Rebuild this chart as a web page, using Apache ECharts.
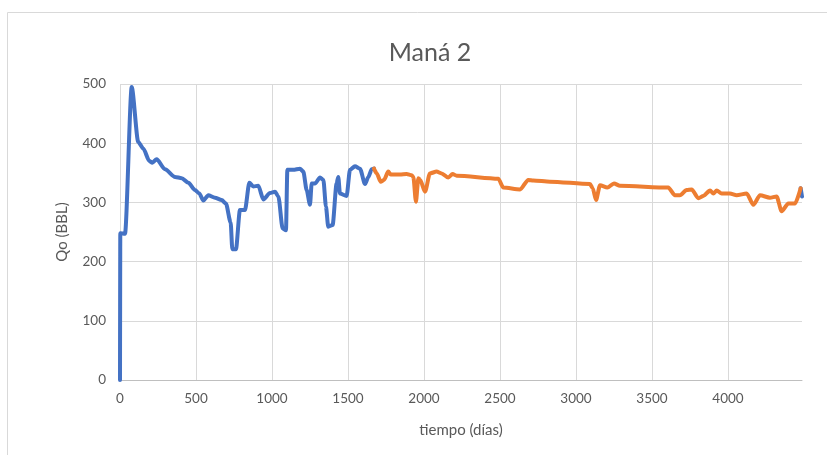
<!DOCTYPE html>
<html>
<head>
<meta charset="utf-8">
<script src="https://cdn.jsdelivr.net/npm/echarts@6/dist/echarts.min.js"></script>
<style>
    html, body { margin: 0; padding: 0; background: #fff; }
    #chart { width: 827px; height: 455px; }
</style>
</head>
<body>
<div id="chart"></div>
<script>
    // produccion historica (azul)
    var blueDays = [0, 2, 33, 77, 120, 153, 193, 213, 241, 296, 362, 406, 450, 493, 522, 548, 581, 625, 669, 697,
        728, 739, 763, 789, 822, 851, 877, 910, 943, 987, 1020, 1042, 1070, 1092, 1101, 1140, 1184, 1206, 1228, 1250,
        1261, 1283, 1316, 1338, 1355, 1370, 1399, 1425, 1436, 1447, 1491, 1513, 1546, 1579, 1612, 1634, 1656, 1671,
        null, 4478, 4487]
    var blueQo = [0, 248, 247, 495, 402, 391, 370, 367, 373, 356, 343, 341, 333, 321, 315, 303, 312, 308, 304, 298,
        266, 221, 221, 287, 287, 333, 327, 328, 305, 316, 318, 310, 256, 253, 355, 355, 357, 352, 321, 296,
        332, 332, 342, 338, 293, 259, 262, 332, 343, 315, 311, 355, 361, 357, 331, 343, 356, 357,
        null, 324, 310]
    // segunda serie (naranja)
    var orangeDays = [1671, 1689, 1715, 1737, 1765, 1781, 1842, 1886, 1919, 1930, 1947, 1963, 1975, 2007, 2039, 2083,
        2116, 2160, 2188, 2215, 2489, 2522, 2632, 2686, 2719, 2829, 3092, 3110, 3132, 3158, 3206, 3250, 3289, 3607,
        3651, 3684, 3728, 3761, 3805, 3838, 3882, 3904, 3926, 3958, 4013, 4057, 4123, 4167, 4211, 4276, 4320, 4353,
        4397, 4441, 4478]
    var orangeQo = [357, 349, 335, 338, 352, 347, 347, 348, 346, 343, 301, 341, 338, 318, 349, 352,
        349, 342, 348, 345, 340, 325, 322, 338, 337, 335, 331, 324, 304, 329, 325, 332, 328, 325,
        312, 312, 321, 322, 307, 311, 320, 315, 320, 315, 315, 312, 315, 296, 312, 308, 310, 285,
        298, 298, 324]

    function pairs(xs, ys) {
        var out = []
        for (var i = 0; i < xs.length; i++) {
            out.push(xs[i] === null ? '-' : [xs[i], ys[i]])
        }
        return out
    }

    var font = 'Lato, "Open Sans", sans-serif'
    var grey = '#595959'

    var option = {
        animation: false,
        textStyle: { fontFamily: font },
        graphic: [{
            type: 'rect',
            shape: { x: 7.5, y: 12.5, width: 840, height: 470 },
            style: { fill: 'none', stroke: '#d9d9d9', lineWidth: 1 },
            silent: true
        }],
        title: {
            text: 'Maná 2',
            left: 425,
            top: 35,
            textAlign: 'center',
            textStyle: { fontFamily: font, fontSize: 25, fontWeight: 'normal', color: grey }
        },
        grid: { left: 120, right: 25, top: 84, bottom: 75 },
        xAxis: {
            type: 'value',
            min: 0,
            max: 4487,
            interval: 500,
            name: 'tiempo (días)',
            nameLocation: 'middle',
            nameGap: 43,
            nameMoveOverlap: false,
            nameTextStyle: { fontSize: 15, color: grey },
            axisLine: { show: true, lineStyle: { color: '#bfbfbf', width: 1 } },
            axisTick: { show: false },
            axisLabel: {
                color: grey, fontSize: 13.5, margin: 12, showMaxLabel: false,
                formatter: function (v) { return String(v) }
            },
            splitLine: { show: true, showMaxLine: false, lineStyle: { color: '#d9d9d9', width: 1 } }
        },
        yAxis: {
            type: 'value',
            min: 0,
            max: 500,
            interval: 100,
            name: 'Qo (BBL)',
            nameLocation: 'middle',
            nameGap: 50,
            nameMoveOverlap: false,
            nameTextStyle: { fontSize: 15, color: grey },
            axisLine: { show: false },
            axisTick: { show: false },
            axisLabel: { color: grey, fontSize: 13.5, margin: 14 },
            splitLine: { show: true, lineStyle: { color: '#d9d9d9', width: 1 } }
        },
        series: [
            {
                type: 'line',
                data: pairs(blueDays, blueQo),
                showSymbol: false,
                connectNulls: false,
                smooth: 0.25,
                smoothMonotone: 'x',
                lineStyle: { color: '#4472C4', width: 4, cap: 'round', join: 'round' },
                itemStyle: { color: '#4472C4' },
                z: 2
            },
            {
                type: 'line',
                data: pairs(orangeDays, orangeQo),
                showSymbol: false,
                smooth: 0.25,
                smoothMonotone: 'x',
                lineStyle: { color: '#ED7D31', width: 4, cap: 'round', join: 'round' },
                itemStyle: { color: '#ED7D31' },
                z: 3
            }
        ]
    }

    echarts.init(document.getElementById('chart')).setOption(option)
</script>
</body>
</html>
